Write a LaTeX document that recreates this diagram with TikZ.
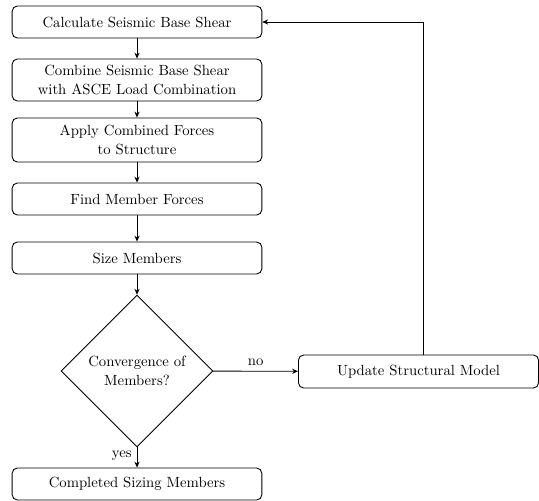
\documentclass[tikz,border=0pt]{standalone}
\usetikzlibrary{shapes.geometric,arrows.meta}
\begin{document}
\begin{tikzpicture}[x=0.679pt,y=-0.679pt,
  procbox/.style={draw,semithick,rounded corners=3.5pt,minimum width=169.5pt,minimum height=21.7pt,align=center,inner sep=2pt},
  decbox/.style={draw,semithick,diamond,minimum width=103pt,minimum height=103pt,inner sep=0pt,align=center},
  conn/.style={-{Stealth[length=4pt,width=3.5pt]},semithick},
  lab/.style={}]
\useasboundingbox (0,0) rectangle (539,500);
\node[procbox] (b1) at (137,22) {Calculate Seismic Base Shear};
\node[procbox,minimum height=28.5pt] (b2) at (137,80) {Combine Seismic Base Shear\\[1pt] with ASCE Load Combination};
\node[procbox,minimum height=29.9pt] (b3) at (137,140) {Apply Combined Forces\\[1pt] to Structure};
\node[procbox] (b4) at (137,199) {Find Member Forces};
\node[procbox] (b5) at (137,258) {Size Members};
\node[decbox] (d) at (137,371) {Convergence of\\[1pt] Members?};
\node[procbox] (b6) at (137,484) {Completed Sizing Members};
\node[procbox,minimum width=163pt,minimum height=22.4pt] (up) at (418.5,371.5) {Update Structural Model};
\coordinate (c1) at (423.5,22);
\draw[conn] (b1) -- (b2);
\draw[conn] (b2) -- (b3);
\draw[conn] (b3) -- (b4);
\draw[conn] (b4) -- (b5);
\draw[conn] (b5) -- (d);
\draw[conn] (d) -- node[lab,above,pos=0.5]{no} (up);
\draw[conn] (d) -- node[lab,left,pos=0.4]{yes} (b6);
\draw[conn] (up.north -| c1) -- (c1) -- (c1 -| b1.east);
\end{tikzpicture}
\end{document}
